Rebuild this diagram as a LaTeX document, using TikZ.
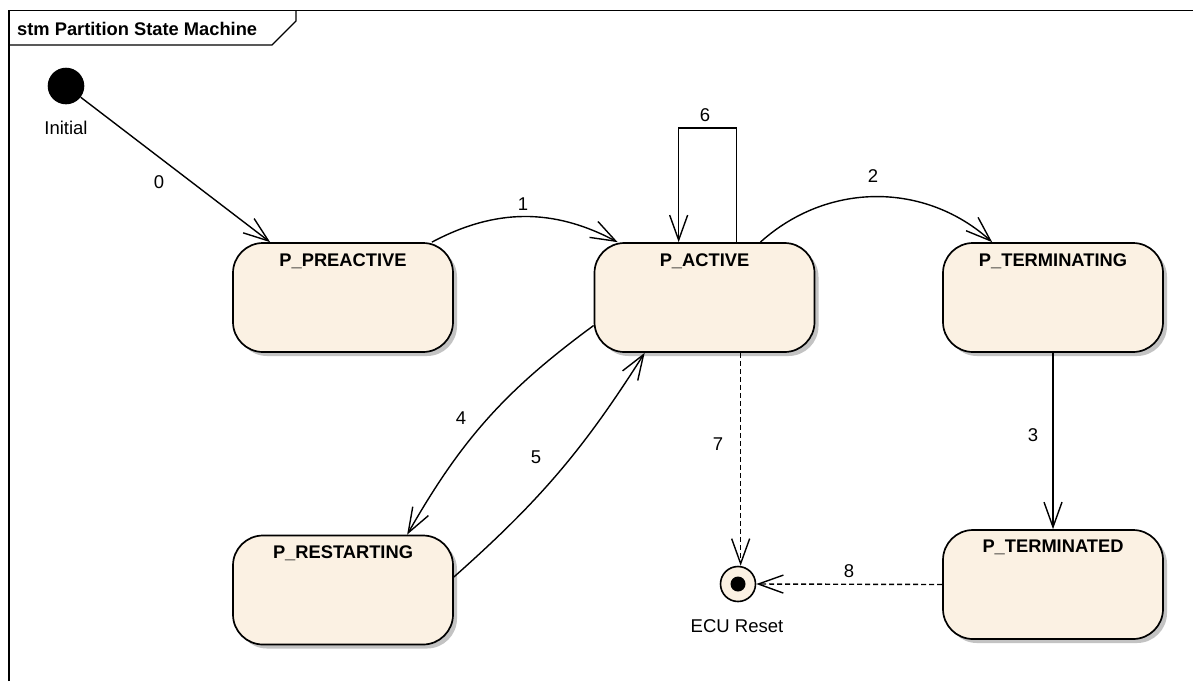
\documentclass[tikz,border=0pt]{standalone}
\usepackage{fontspec}
\setmainfont{Liberation Sans}
\usetikzlibrary{arrows.meta,shadows,calc}
\definecolor{stfill}{RGB}{251,241,227}
\definecolor{shgray}{RGB}{195,195,195}
\begin{document}
\begin{tikzpicture}[x=1pt,y=-1pt,
  state/.style={draw=black,line width=1.7pt,fill=stfill,rounded corners=30pt,
    minimum width=220pt,minimum height=109pt,inner sep=0pt,
    drop shadow={shadow xshift=4pt,shadow yshift=-4pt,fill=shgray,opacity=1}},
  sname/.style={font=\fontsize{18.3}{20}\selectfont\bfseries,inner sep=0pt},
  lbl/.style={font=\fontsize{18.5}{20}\selectfont,inner sep=0pt},
  tr/.style={draw,line width=1.4pt,-{Straight Barb[length=25pt,width=18pt,line width=1.4pt]}},
  dsh/.style={tr,dash pattern=on 5pt off 3pt}]
\useasboundingbox (0,0) rectangle (1193,681);
% frame
\draw[line width=1.8pt] (9,681) -- (9,10.5) -- (1193,10.5);
\draw[line width=1.4pt] (9,45) -- (272,45) -- (296,21) -- (296,10);
\node[anchor=base west,font=\fontsize{18.3}{20}\selectfont\bfseries,inner sep=0pt] (title) at (17,35) {stm Partition State Machine};
% initial
\node[circle,fill=black,minimum size=36.6pt,inner sep=0pt] (init) at (66,86) {};
\node[lbl] (initL) at (66,128) {Initial};
% states
\node[state] (pre) at (343,297.5) {};
\node[sname] (preN) at ($(pre.north)+(0,19)$) {P\_PREACTIVE};
\node[state] (act) at (704.5,297.5) {};
\node[sname] (actN) at ($(act.north)+(0,19)$) {P\_ACTIVE};
\node[state] (term) at (1053,297.5) {};
\node[sname] (termN) at ($(term.north)+(0,19)$) {P\_TERMINATING};
\node[state] (rst) at (343,590) {};
\node[sname] (rstN) at ($(rst.north)+(0,19)$) {P\_RESTARTING};
\node[state] (termd) at (1053,584.5) {};
\node[sname] (termdN) at ($(termd.north)+(0,18)$) {P\_TERMINATED};
% final
\node[circle,draw=black,line width=1.6pt,fill=stfill,minimum size=35pt,inner sep=0pt] (ecu) at (738,584) {};
\node[circle,fill=black,minimum size=15pt,inner sep=0pt] (ecuDot) at (ecu.center) {};
\node[lbl] (ecuL) at (737,626) {ECU Reset};
% transitions
\draw[tr] (init) -- ([xshift=38pt]pre.north west);
\draw[tr] ([xshift=-22pt]pre.north east) to[bend left=28] ([xshift=24pt]act.north west);
\draw[tr] ([xshift=143pt]act.north west) -- ++(0,-114) -| ([xshift=85pt]act.north west);
\draw[tr] ([xshift=-55pt]act.north east) to[bend left=42] ([xshift=50pt]term.north west);
\draw[tr] (term.south) -- (termd.north);
\draw[tr] ([yshift=-28pt]act.west) to[bend right=12] ([xshift=175pt]rst.north west);
\draw[tr] ([yshift=13pt]rst.east) to[bend right=8] ([xshift=51pt]act.south west);
\coordinate (s7) at ([xshift=147pt]act.south west);
\draw[dsh] (s7) -- (s7 |- ecu.north);
\draw[dsh] (termd.west) -- (ecu.east);
% labels
\node[lbl] (l0) at (159,182) {0};
\node[lbl] (l1) at (523,204) {1};
\node[lbl] (l2) at (873,176) {2};
\node[lbl] (l3) at (1033,435) {3};
\node[lbl] (l4) at (461,418) {4};
\node[lbl] (l5) at (536,457) {5};
\node[lbl] (l6) at (705,115) {6};
\node[lbl] (l7) at (718,444) {7};
\node[lbl] (l8) at (849,571) {8};
\end{tikzpicture}
\end{document}
